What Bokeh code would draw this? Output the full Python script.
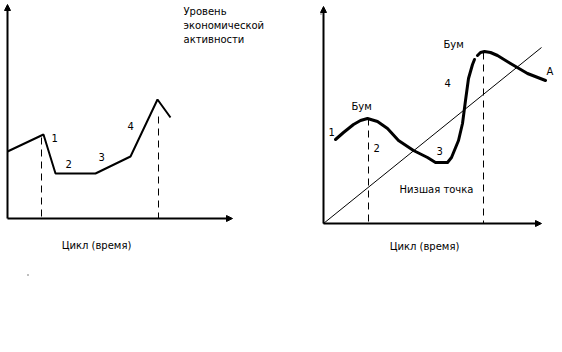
from bokeh.plotting import figure
from bokeh.models import Range1d, Arrow, NormalHead
from bokeh.core.properties import value
from bokeh.embed import file_html
from bokeh.resources import INLINE

# ---- left panel: economic activity over the cycle ----
left_x = [7, 43, 55, 95, 130, 157, 170]
left_y = [151, 134, 173, 173, 156, 99, 117]
left_dash_x = [41, 158]
left_dash_top = [137, 116]
left_num_x = [51, 65, 98, 127]
left_num_y = [137, 163, 156, 125]
left_nums = ["1", "2", "3", "4"]

# ---- right panel: cycle around trend line A ----
curve1_x = [335, 343, 353, 360, 367, 377, 387, 398, 413, 427, 435, 447, 451, 458, 462, 465, 468, 472, 474]
curve1_y = [139, 132, 124, 120, 118, 121, 128, 140, 150, 157, 162, 162, 157, 140, 123, 100, 78, 64, 59]
curve2_x = [477, 480, 484, 490, 497, 510, 527, 545]
curve2_y = [55, 52, 51, 52, 55, 63, 73, 80]
trend_x = [323, 541]
trend_y = [223, 47]
right_dash_x = [368, 483]
right_dash_top = [118, 52]
right_lbl_x = [328, 373, 436, 444, 546, 351, 443]
right_lbl_y = [131, 147, 150, 82, 71, 106, 44]
right_lbls = ["1", "2", "3", "4", "A", "Бум", "Бум"]

FONT = value("DejaVu Sans")
FS = "10px"

p = figure(width=562, height=352, output_backend="svg", toolbar_location=None,
           x_range=Range1d(0, 562), y_range=Range1d(352, 0), min_border=0)
p.axis.visible = False
p.grid.visible = False
p.outline_line_color = None
p.background_fill_color = "white"
p.border_fill_color = "white"

# axes with arrowheads
for (x0, y0, x1, y1) in [(7, 218, 7, 4), (7, 218, 232, 218),
                         (323, 223, 323, 6), (323, 223, 541, 223)]:
    p.add_layout(Arrow(end=NormalHead(size=6, fill_color="black", line_color="black", line_width=1),
                       x_start=x0, y_start=y0, x_end=x1, y_end=y1,
                       line_width=2, line_color="black"))

# left panel
p.line(left_x, left_y, line_width=2, line_color="black")
p.segment(x0=left_dash_x, y0=left_dash_top, x1=left_dash_x, y1=[218, 218],
          line_dash="7 5", line_color="black", line_width=1)
p.text(left_num_x, left_num_y, text=left_nums, text_font=FONT, text_font_size=FS,
       text_baseline="alphabetic", text_color="black")
p.text([96], [245], text=["Цикл (время)"], text_font=FONT, text_font_size=FS,
       text_align="center", text_baseline="alphabetic", text_color="black")
p.text([183, 183, 183], [11, 25, 39], text=["Уровень", "экономической", "активности"],
       text_font=FONT, text_font_size=FS, text_baseline="alphabetic", text_color="black")
p.rect([27.5, 320.5], [274.5, 13.5], width=1, height=1, fill_color="black", line_color=None)

# right panel
p.line(trend_x, trend_y, line_width=1, line_color="black")
p.segment(x0=right_dash_x, y0=right_dash_top, x1=right_dash_x, y1=[223, 223],
          line_dash="7 5", line_color="black", line_width=1)
p.line(curve1_x, curve1_y, line_width=3, line_color="black", line_join="round", line_cap="round")
p.line(curve2_x, curve2_y, line_width=3, line_color="black", line_join="round", line_cap="round")
p.text(right_lbl_x, right_lbl_y, text=right_lbls, text_font=FONT, text_font_size=FS,
       text_align="left", text_baseline="alphabetic", text_color="black")
p.text([436, 424], [189, 246], text=["Низшая точка", "Цикл (время)"], text_font=FONT,
       text_font_size=FS, text_align="center", text_baseline="alphabetic", text_color="black")

open("out.html", "w").write(file_html(p, INLINE))
